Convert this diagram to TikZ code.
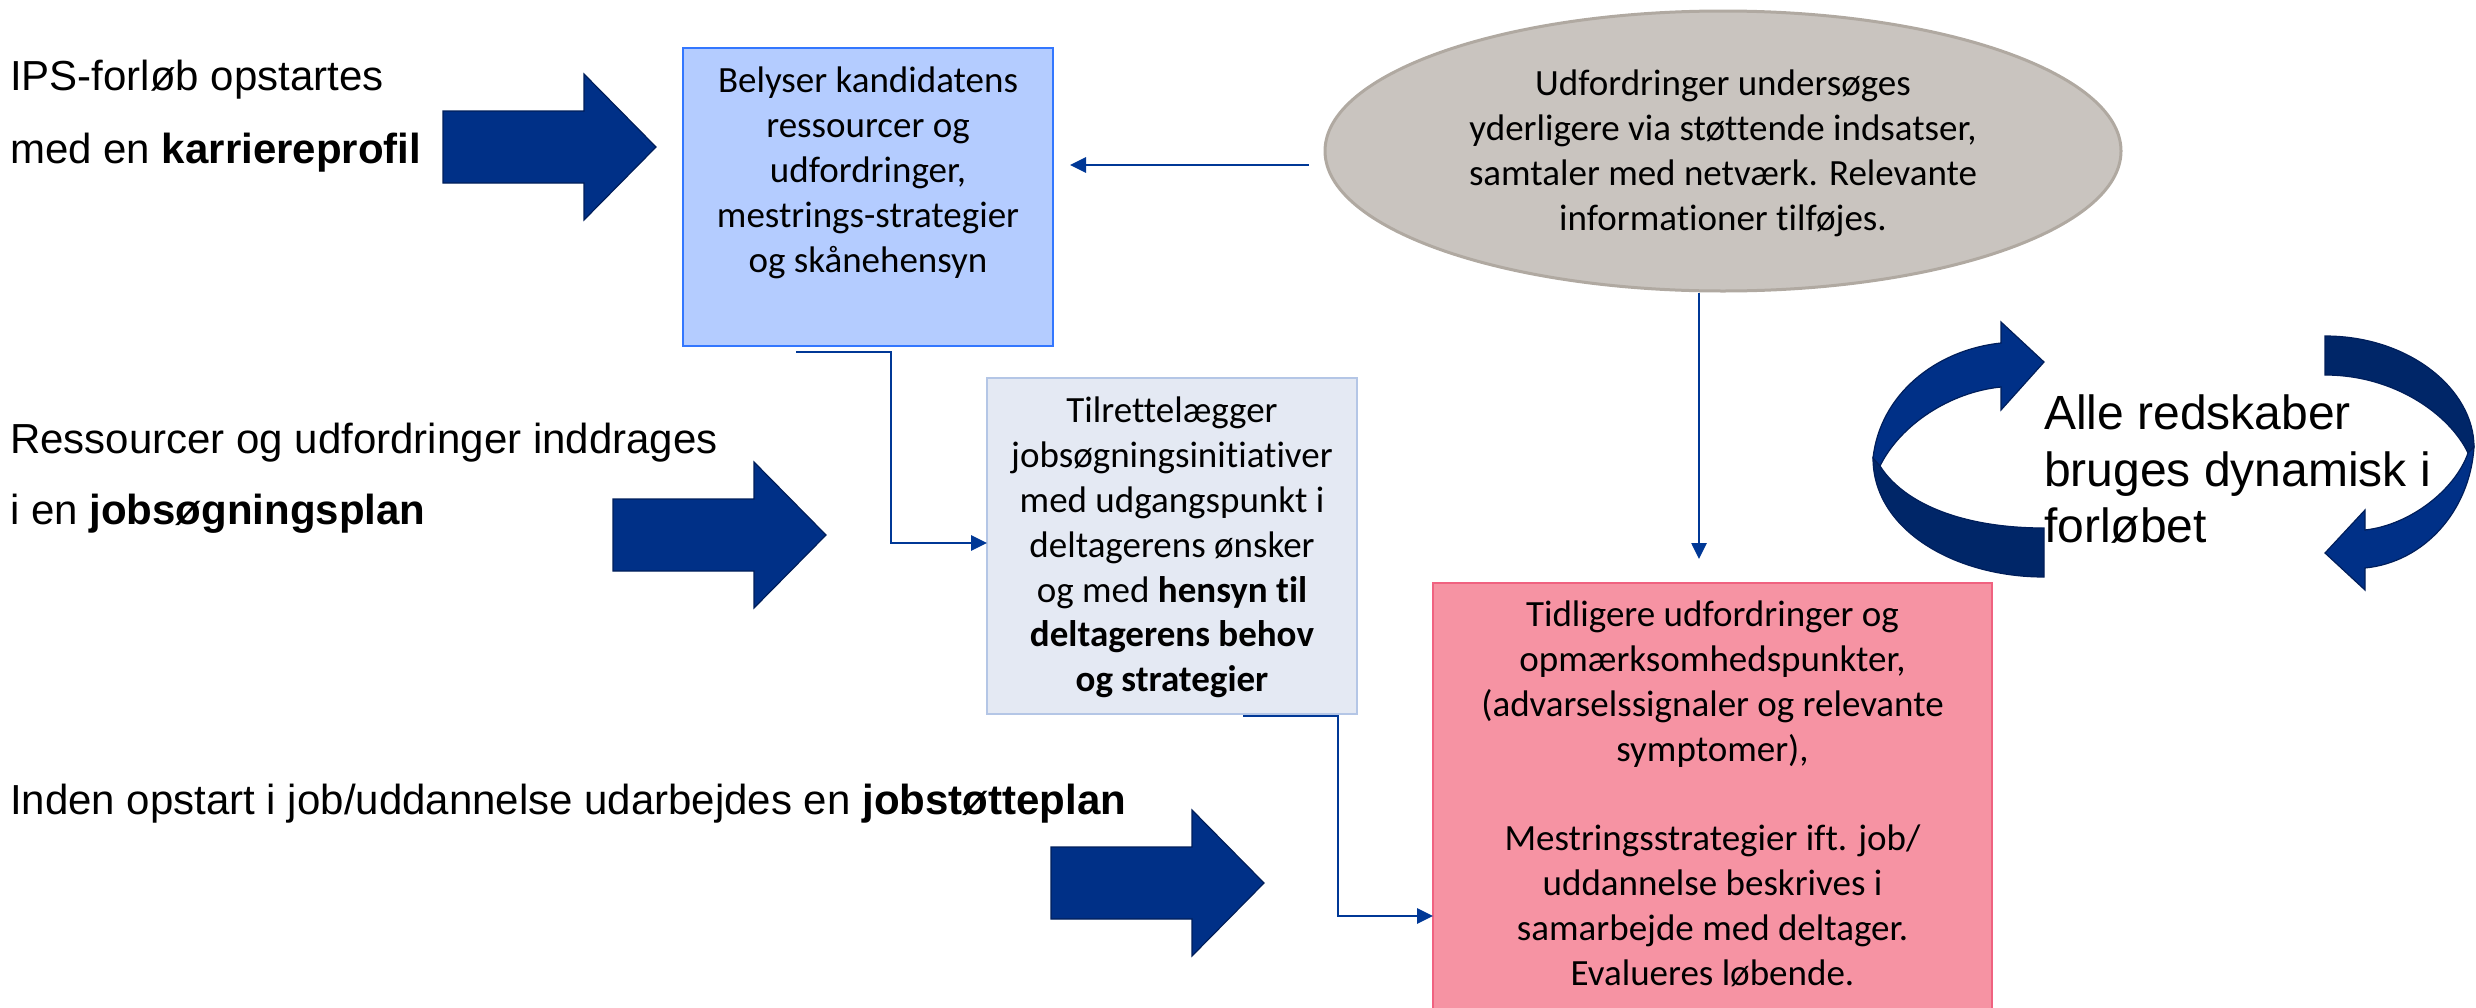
\documentclass[tikz,border=0pt]{standalone}
\usepackage{fontspec}
\setmainfont{Liberation Sans}[Ligatures=NoCommon]
\newfontfamily\calfont{Carlito}[Ligatures=NoCommon]
\usetikzlibrary{shapes.geometric,arrows.meta}
\definecolor{navy}{RGB}{0,48,135}
\definecolor{navyback}{RGB}{0,38,104}
\definecolor{navyline}{RGB}{0,30,90}
\definecolor{conncol}{RGB}{0,56,150}
\definecolor{boxAfill}{RGB}{180,204,255}
\definecolor{boxAdraw}{RGB}{51,119,255}
\definecolor{boxBfill}{RGB}{228,233,243}
\definecolor{boxBdraw}{RGB}{180,198,230}
\definecolor{ellfill}{RGB}{201,196,191}
\definecolor{elldraw}{RGB}{176,169,161}
\definecolor{pinkfill}{RGB}{246,147,163}
\definecolor{pinkdraw}{RGB}{240,98,128}
\begin{document}
\begin{tikzpicture}[x=1pt,y=-1pt,
  boxshape/.style={rectangle, inner sep=0pt, outer sep=0pt, line width=2pt},
  boxtext/.style={anchor=north, inner sep=0pt, align=center, font=\calfont\fontsize{37}{44.8}\selectfont},
  lefttext/.style={anchor=base west, inner sep=0pt, font=\fontsize{42}{50}\selectfont},
  conn/.style={draw=conncol, line width=2.7pt, -{Triangle[length=16pt,width=15pt]}},
  bigarrow/.pic={\draw[fill=navy, draw=navyline, line width=1.2pt]
     (0,-36) -- (141,-36) -- (141,-73) -- (213,0) -- (141,73) -- (141,36) -- (0,36) -- cycle;}
]
\useasboundingbox (0,0) rectangle (2476,1007);

% left texts
\node[lefttext] (l1) at (10,90) {IPS-forløb opstartes};
\node[lefttext] (l2) at (10,163) {med en \textbf{karriereprofil}};
\node[lefttext] (l3) at (10,453) {Ressourcer og udfordringer inddrages};
\node[lefttext] (l4) at (10,524) {i en \textbf{jobsøgningsplan}};
\node[lefttext] (l5) at (10,814) {Inden opstart i job/uddannelse udarbejdes en \textbf{jobstøtteplan}};

% block arrows
\pic at (443,147) {bigarrow};
\pic at (613,535) {bigarrow};
\pic at (1051,883) {bigarrow};

% boxes
\node[boxshape, fill=boxAfill, draw=boxAdraw, minimum width=370pt, minimum height=298pt] (box1) at (868,197) {};
\node[boxtext] (t1) at (868,67) {Belyser kandidatens\\ressourcer og\\udfordringer,\\mestrings-strategier\\og skånehensyn};

\node[boxshape, fill=boxBfill, draw=boxBdraw, minimum width=370pt, minimum height=336pt] (box2) at (1172,546) {};
\node[boxtext] (t2) at (1172,397) {Tilrettelægger\\jobsøgningsinitiativer\\med udgangspunkt i\\deltagerens ønsker\\og med \textbf{hensyn til}\\\textbf{deltagerens behov}\\\textbf{og strategier}};

\node[ellipse, inner sep=0pt, fill=ellfill, draw=elldraw, line width=3pt, minimum width=796pt, minimum height=280pt] (ell) at (1723,151) {};
\node[boxtext] (t3) at (1723,70) {Udfordringer undersøges\\yderligere via støttende indsatser,\\samtaler med netværk. Relevante\\informationer tilføjes.};

\node[boxshape, fill=pinkfill, draw=pinkdraw, minimum width=559pt, minimum height=440pt] (pink) at (1712.5,803) {};
\node[boxtext] (t4) at (1712.5,601) {Tidligere udfordringer og\\opmærksomhedspunkter,\\(advarselssignaler og relevante\\symptomer),\\[44.8pt]Mestringsstrategier ift. job/\\uddannelse beskrives i\\samarbejde med deltager.\\Evalueres løbende.};

% connectors
\path (ell.west) ++(-15,14) coordinate (e1);
\draw[conn, shorten >=17pt] (e1) -- (e1 -| box1.east);
\path (ell.south) ++(-24,0) coordinate (e2);
\draw[conn, shorten >=24pt] (e2) -- (e2 |- pink.north);
\draw[conn] ([xshift=-72pt,yshift=-6pt]box1.south) -- ++(95,0) |- ([yshift=3pt]box2.west);
\draw[conn] ([xshift=71pt,yshift=-2pt]box2.south) -- ++(95,0) |- ([yshift=-113pt]pink.west);

% circular arrows
\draw[fill=navyback, draw=navyline, line width=1.2pt]
  (1873,458) .. controls (1873,530) and (1955,577) .. (2044,577) -- (2044,528)
  .. controls (1965,528) and (1905,505) .. (1880,466) -- cycle;
\draw[fill=navy, draw=navyline, line width=1.2pt]
  (1873,458) .. controls (1880,395) and (1935,350) .. (2001,343) -- (2001,322) -- (2044,362)
  -- (2001,410) -- (2001,387) .. controls (1950,392) and (1900,425) .. (1880,466) -- cycle;
\draw[fill=navyback, draw=navyline, line width=1.2pt]
  (2325,336) .. controls (2410,336) and (2474,390) .. (2474,447) -- (2468,453)
  .. controls (2450,415) and (2395,375) .. (2325,375) -- cycle;
\draw[fill=navy, draw=navyline, line width=1.2pt]
  (2474,447) .. controls (2470,510) and (2425,562) .. (2365,568) -- (2365,590) -- (2325,553)
  -- (2365,510) -- (2365,530) .. controls (2410,525) and (2455,490) .. (2468,453) -- cycle;
\node[anchor=north west, inner sep=0pt, align=left, font=\fontsize{48}{56.5}\selectfont] (alle) at (2044,395) {Alle redskaber\\bruges dynamisk i\\forløbet};
\end{tikzpicture}
\end{document}
